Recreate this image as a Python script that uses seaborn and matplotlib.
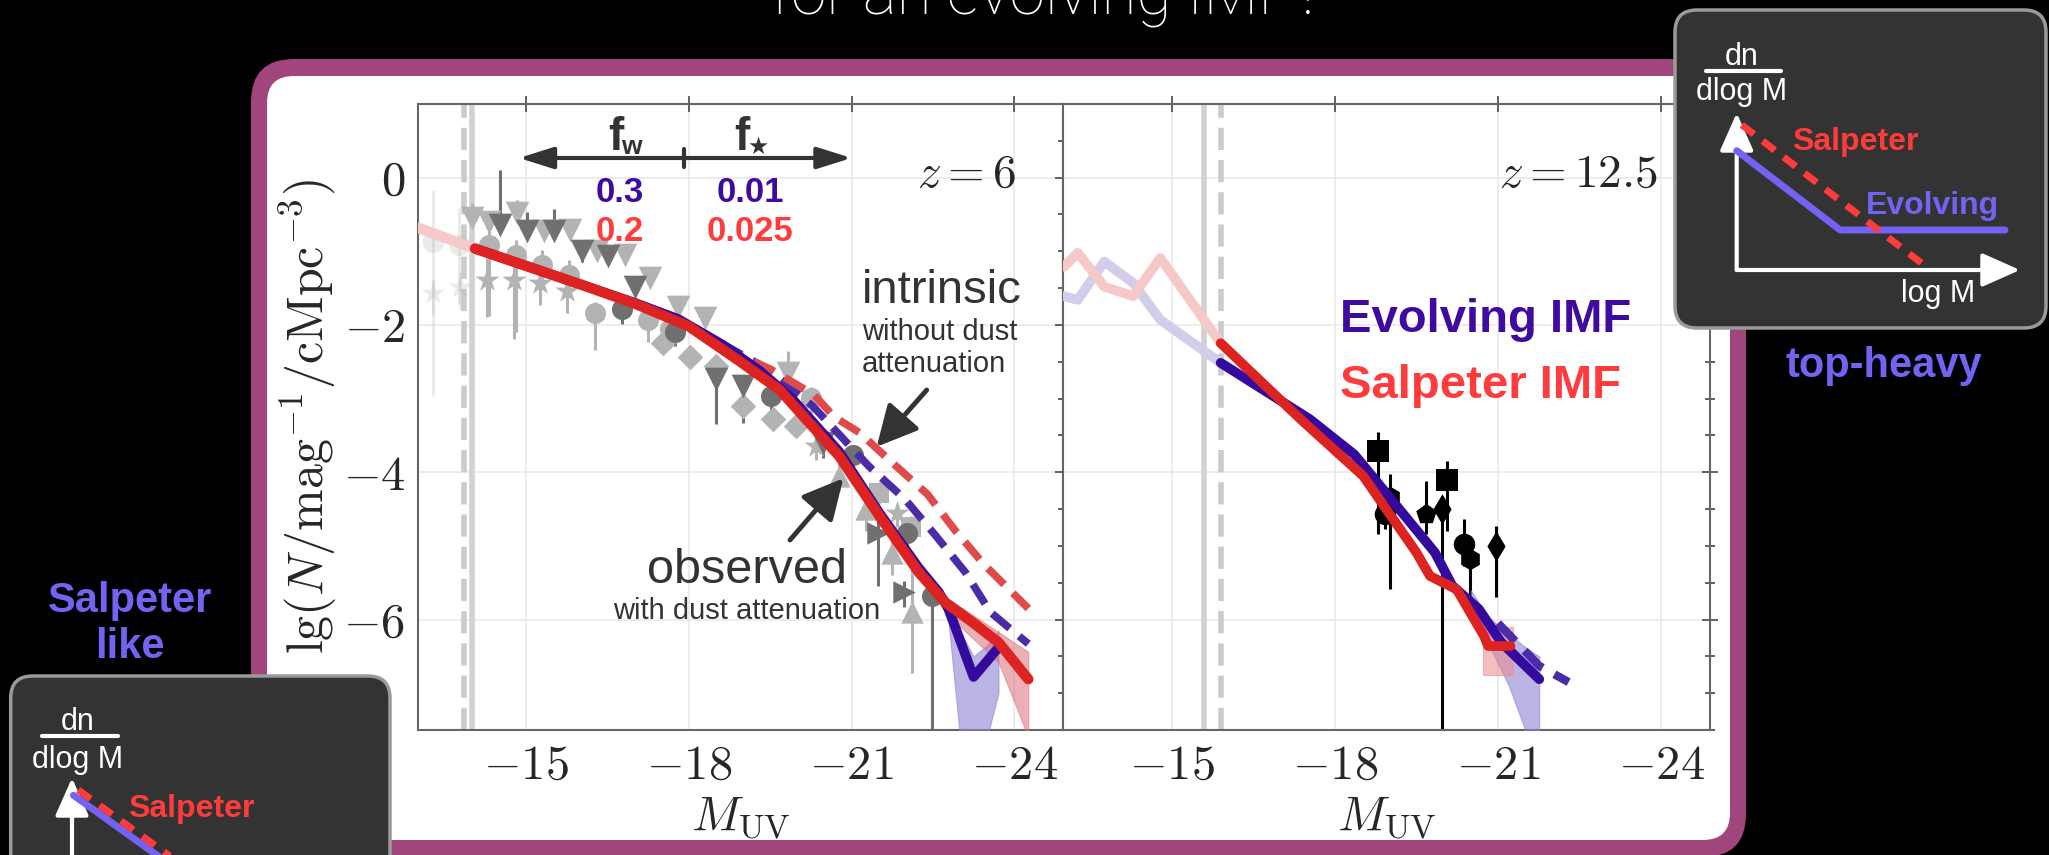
import numpy as np
import pandas as pd
import matplotlib
matplotlib.use("Agg")
import matplotlib.pyplot as plt
import seaborn as sns
from matplotlib.patches import FancyBboxPatch
from matplotlib.ticker import MultipleLocator

# ------------------------------------------------------------------ data
x_ticks = [-15, -18, -21, -24]
y_ticks = [0, -2, -4, -6]
x_lim = (-13.0, -24.9)
y_lim = (-7.5, 1.0)

# ---- z = 6 panel: model curves (observed = solid, intrinsic = dashed)
z6_salp_obs_M = [-13.0, -14.0, -15.0, -16.0, -17.0, -18.0, -18.93, -19.67, -20.77, -21.51, -22.24, -22.73, -23.2, -23.71, -24.26]
z6_salp_obs_y = [-0.68, -0.95, -1.2, -1.45, -1.71, -2.02, -2.49, -2.88, -3.78, -4.59, -5.36, -5.77, -6.02, -6.31, -6.81]
z6_evo_obs_M = [-13.0, -14.0, -15.0, -16.0, -17.0, -17.8, -18.6, -19.3, -19.9, -20.77, -21.51, -22.24, -22.61, -22.79, -23.25, -23.71]
z6_evo_obs_y = [-0.68, -0.95, -1.2, -1.45, -1.7, -1.92, -2.26, -2.62, -3.0, -3.72, -4.55, -5.3, -5.63, -5.86, -6.78, -6.38]
z6_salp_int_M = [-18.6, -19.5, -20.31, -20.68, -21.14, -21.78, -22.4, -22.92, -23.44, -24.26]
z6_salp_int_y = [-2.3, -2.6, -2.95, -3.25, -3.46, -3.89, -4.3, -4.8, -5.25, -5.85]
z6_evo_int_M = [-18.6, -19.5, -20.28, -21.32, -21.99, -22.55, -23.1, -23.56, -24.26]
z6_evo_int_y = [-2.25, -2.62, -3.1, -3.92, -4.37, -4.86, -5.36, -5.9, -6.33]
z6_evo_band_M = [-22.61, -22.79, -23.0, -23.25, -23.5, -23.71]
z6_evo_band_hi = [-5.58, -5.78, -6.15, -6.5, -6.35, -6.15]
z6_evo_band_lo = [-5.7, -6.05, -7.6, -7.6, -7.6, -7.0]
z6_salp_band_M = [-22.6, -22.79, -23.71, -24.26]
z6_salp_band_hi = [-5.6, -5.72, -6.17, -6.44]
z6_salp_band_lo = [-5.75, -5.95, -6.58, -7.6]
z6_limits_solid = -14.0
z6_limits_dashed = -13.85

# ---- z = 6 panel: observational data (grey)
dtri_M = [-14.52, -15.01, -15.51, -16.02, -16.51, -17.0, -18.5, -18.99, -20.47]
dtri_y = [-0.64, -0.73, -0.73, -1.0, -1.07, -1.48, -2.74, -2.83, -3.6]
dtri_lo = [0.1, 0.1, 0.1, 0.15, 0.1, 0.1, 0.6, 0.5, 0.2]
dtri_hi = [0.75, 0.27, 0.3, 0.16, 0.16, 0.13, 0.15, 0.15, 0.15]
ltri_M = [-14.0, -14.31, -14.83, -15.32, -15.81, -16.3, -16.82, -17.28, -17.8, -18.29, -19.82]
ltri_y = [-0.55, -0.6, -0.48, -0.73, -0.71, -1.0, -1.05, -1.36, -1.75, -1.91, -2.65]
ltri_lo = [0.1, 0.1, 0.1, 0.1, 0.1, 0.1, 0.1, 0.1, 0.1, 0.1, 0.2]
ltri_hi = [0.2, 0.15, 0.18, 0.1, 0.1, 0.1, 0.1, 0.1, 0.1, 0.1, 0.3]
lcirc_M = [-14.31, -14.8, -15.29, -15.78, -16.27, -17.25, -17.65, -20.25]
lcirc_y = [-0.91, -1.05, -1.18, -1.32, -1.84, -1.93, -2.06, -2.99]
lcirc_lo = [0.97, 1.05, 0.3, 0.3, 0.5, 0.3, 0.25, 0.2]
lcirc_hi = [0.34, 0.2, 0.2, 0.2, 0.15, 0.1, 0.1, 0.15]
dcirc_M = [-16.76, -17.74, -19.52, -21.02, -22.03, -22.49]
dcirc_y = [-1.79, -2.09, -2.97, -3.76, -4.82, -5.68]
dcirc_lo = [0.2, 0.2, 0.2, 0.2, 0.3, 2.0]
dcirc_hi = [0.1, 0.1, 0.1, 0.1, 0.2, 0.2]
star_M = [-14.28, -14.77, -15.26, -15.75, -20.35, -21.84]
star_y = [-1.39, -1.39, -1.43, -1.54, -3.64, -4.55]
star_lo = [0.5, 0.8, 0.3, 0.3, 0.2, 0.2]
star_hi = [0.3, 0.4, 0.2, 0.15, 0.1, 0.1]
diam_M = [-17.52, -18.01, -18.5, -18.99, -19.55, -19.98]
diam_y = [-2.24, -2.43, -2.56, -3.1, -3.28, -3.37]
diam_lo = [0.15, 0.15, 0.15, 0.15, 0.15, 0.15]
diam_hi = [0.15, 0.15, 0.15, 0.15, 0.15, 0.15]
tup_M = [-20.77, -21.26, -21.75, -22.12]
tup_y = [-4.05, -4.5, -5.09, -5.9]
tup_lo = [0.2, 0.3, 0.3, 0.82]
tup_hi = [0.2, 0.2, 0.2, 0.68]
trt_M = [-21.48, -21.97]
trt_y = [-4.82, -5.63]
trt_lo = [0.72, 0.2]
trt_hi = [0.3, 0.15]
sq_M = [-21.51, -22.1]
sq_y = [-4.28, -4.75]
sq_lo = [0.15, 0.15]
sq_hi = [0.15, 0.15]
faint_circ_M = [-13.27, -13.76]
faint_circ_y = [-0.87, -0.91]
faint_circ_lo = [2.1, 0.8]
faint_circ_hi = [0.7, 0.5]
faint_star_M = [-13.27, -13.77]
faint_star_y = [-1.57, -1.48]
faint_star_lo = [0.3, 0.3]
faint_star_hi = [0.2, 0.2]

# ---- z = 12.5 panel: model curves
z12_salp_obs_M = [-13.02, -13.27, -13.76, -14.29, -14.79, -15.89, -17.37, -18.52, -19.5, -19.75, -20.24, -20.74, -20.82, -21.23]
z12_salp_obs_y = [-1.21, -1.02, -1.48, -1.61, -1.09, -2.24, -3.28, -4.05, -5.09, -5.41, -5.59, -6.22, -6.36, -6.36]
z12_evo_obs_M = [-13.02, -13.27, -13.76, -14.29, -14.79, -15.89, -17.54, -18.36, -19.34, -19.84, -20.16, -20.65, -21.06, -21.76]
z12_evo_obs_y = [-1.61, -1.66, -1.14, -1.43, -1.93, -2.51, -3.28, -3.76, -4.64, -5.09, -5.54, -5.86, -6.31, -6.81]
z12_evo_int_M = [-21.0, -21.76, -22.3]
z12_evo_int_y = [-6.05, -6.63, -6.85]
z12_evo_band_M = [-20.5, -20.8, -21.2, -21.55, -21.76]
z12_evo_band_hi = [-5.6, -5.95, -6.2, -6.4, -6.5]
z12_evo_band_lo = [-5.85, -6.3, -6.9, -7.6, -7.6]
z12_salp_band_M = [-20.72, -21.28]
z12_salp_band_hi = [-6.1, -6.1]
z12_salp_band_lo = [-6.75, -6.75]
z12_limits_solid = -15.6
z12_limits_dashed = -15.9

# ---- z = 12.5 panel: observational data (black)
z12_obs_M = [-18.8, -18.93, -19.01, -19.67, -19.97, -20.06, -20.37, -20.49, -20.96]
z12_obs_y = [-3.71, -4.57, -4.34, -4.57, -4.50, -4.10, -4.98, -5.18, -5.00]
z12_obs_lo = [1.13, 0.2, 1.25, 0.27, 3.2, 0.7, 0.29, 0.5, 0.7]
z12_obs_hi = [0.25, 0.2, 0.31, 0.45, 0.18, 0.25, 0.34, 0.2, 0.27]
z12_obs_marker = ['s', 'o', 'h', 'p', 'd', 's', 'o', 'h', 'd']

# ---- parameter labels
fw_values = ['0.3', '0.2']
fstar_values = ['0.01', '0.025']

# ---- IMF schematic insets (schematic units 0..1)
th_salp_x = [0.018, 0.653]
th_salp_y = [0.924, 0.043]
th_evo_x = [0.0, 0.365, 0.947]
th_evo_y = [0.76, 0.255, 0.255]
sl_salp_x = [0.022, 0.58]
sl_salp_y = [0.924, 0.197]
sl_evo_x = [0.005, 0.55]
sl_evo_y = [0.89, 0.185]

# ------------------------------------------------------------------ style
sns.set_style("white")
plt.rcParams['mathtext.fontset'] = 'cm'
plt.rcParams['font.family'] = ['Liberation Sans', 'DejaVu Sans']

C_EVO = '#34099e'
C_SALP = '#dd2222'
C_EVO_D = '#4b2ca8'
C_SALP_D = '#e04a4a'
C_EVO_T = '#3f0a9f'
C_SALP_T = '#ff3b3b'
C_EVO_F = '#d3cdea'
C_SALP_F = '#f6c9c9'
C_LG = '#b3b3b3'
C_DG = '#707070'
C_INS = '#7363f2'
MAG = '#a0467c'

W, H = 2049, 855
fig = plt.figure(figsize=(W / 100, H / 100), dpi=100, facecolor='black')


def fx(px):
    return px / W


def fy(py):
    return 1 - py / H


# background frame
bg = fig.add_axes([0, 0, 1, 1], zorder=0)
bg.set_xlim(0, W)
bg.set_ylim(H, 0)
bg.axis('off')
bg.add_patch(FancyBboxPatch((251, 59), 1746 - 251, 857 - 59,
                            boxstyle='round,pad=0,rounding_size=43', fc=MAG, ec='none'))
bg.add_patch(FancyBboxPatch((267, 76), 1730 - 267, 840 - 76,
                            boxstyle='round,pad=0,rounding_size=27', fc='white', ec='none'))

axL = fig.add_axes([fx(418), fy(730), fx(1063) - fx(418), (730 - 104) / H], zorder=1)
axR = fig.add_axes([fx(1063), fy(730), fx(1710) - fx(1063), (730 - 104) / H], zorder=1)


def split_at(M, y, cut):
    M = np.asarray(M, float)
    y = np.asarray(y, float)
    if M.max() <= cut:
        return (M[:0], y[:0]), (M, y)
    yc = np.interp(cut, M[::-1], y[::-1])
    faint = M > cut
    Mf = np.append(M[faint], cut)
    yf = np.append(y[faint], yc)
    Ms = np.insert(M[~faint], 0, cut)
    ys = np.insert(y[~faint], 0, yc)
    return (Mf, yf), (Ms, ys)


def curve(ax, M, y, cut, color, faint_color, lw, z, dash=None):
    (Mf, yf), (Ms, ys) = split_at(M, y, cut)
    for mm, yy, c in ((Mf, yf, faint_color), (Ms, ys, color)):
        if len(mm) < 2:
            continue
        sns.lineplot(x=mm, y=yy, ax=ax, color=c, linewidth=lw, sort=False,
                     estimator=None, zorder=z)
        ln = ax.lines[-1]
        ln.set_solid_capstyle('round')
        if dash is not None:
            ln.set_dashes(dash)
            ln.set_dash_capstyle('butt')


def group(ax, M, y, lo, hi, marker, color, s, alpha=1.0):
    ax.errorbar(M, y, yerr=[lo, hi], fmt='none', ecolor=color, elinewidth=2.2,
                capsize=0, alpha=alpha, zorder=2)
    sns.scatterplot(x=M, y=y, ax=ax, marker=marker, color=color, s=s,
                    linewidth=0, alpha=alpha, zorder=3)


# ---------------- left panel (z = 6)
axL.axvline(z6_limits_solid, color='#d2d2d2', lw=4, zorder=1.5)
axL.axvline(z6_limits_dashed, color='#cbcbcb', lw=4, zorder=1.5, dashes=(4, 1.8))

group(axL, faint_circ_M, faint_circ_y, faint_circ_lo, faint_circ_hi, 'o', C_LG, 230, 0.25)
group(axL, faint_star_M, faint_star_y, faint_star_lo, faint_star_hi, '*', C_LG, 330, 0.25)
group(axL, lcirc_M, lcirc_y, lcirc_lo, lcirc_hi, 'o', C_LG, 230)
group(axL, star_M, star_y, star_lo, star_hi, '*', C_LG, 330)
group(axL, diam_M, diam_y, diam_lo, diam_hi, 'D', C_LG, 170)
group(axL, ltri_M, ltri_y, ltri_lo, ltri_hi, 'v', C_LG, 290)
group(axL, tup_M, tup_y, tup_lo, tup_hi, '^', C_LG, 260)
group(axL, sq_M, sq_y, sq_lo, sq_hi, 's', C_LG, 200)
group(axL, dtri_M, dtri_y, dtri_lo, dtri_hi, 'v', C_DG, 290)
group(axL, dcirc_M, dcirc_y, dcirc_lo, dcirc_hi, 'o', C_DG, 230)
group(axL, trt_M, trt_y, trt_lo, trt_hi, '>', C_DG, 260)

axL.fill_between(z6_evo_band_M, z6_evo_band_lo, z6_evo_band_hi, color='#8d84d4', alpha=0.6, lw=0.8, zorder=3.5)
axL.fill_between(z6_salp_band_M, z6_salp_band_lo, z6_salp_band_hi, color='#d9707a', alpha=0.55, lw=0.8, zorder=3.6)

curve(axL, z6_evo_int_M, z6_evo_int_y, z6_limits_solid - 0.05, C_EVO_D, C_EVO_F, 5.5, 4, dash=(3.0, 1.6))
curve(axL, z6_salp_int_M, z6_salp_int_y, z6_limits_solid - 0.05, C_SALP_D, C_SALP_F, 5.5, 4.1, dash=(3.0, 1.6))
curve(axL, z6_evo_obs_M, z6_evo_obs_y, z6_limits_solid - 0.05, C_EVO, C_EVO_F, 7, 4.2)
curve(axL, z6_salp_obs_M, z6_salp_obs_y, z6_limits_solid - 0.05, C_SALP, C_SALP_F, 7.5, 4.3)

# ---------------- right panel (z = 12.5)
axR.axvline(z12_limits_solid, color='#d2d2d2', lw=4, zorder=1.5)
axR.axvline(z12_limits_dashed, color='#cbcbcb', lw=4, zorder=1.5, dashes=(4, 1.8))

for Mi, yi, lo, hi, mk in zip(z12_obs_M, z12_obs_y, z12_obs_lo, z12_obs_hi, z12_obs_marker):
    group(axR, [Mi], [yi], [lo], [hi], mk, 'black', 240)

axR.fill_between(z12_evo_band_M, z12_evo_band_lo, z12_evo_band_hi, color='#8d84d4', alpha=0.6, lw=0.8, zorder=3.5)
axR.fill_between(z12_salp_band_M, z12_salp_band_lo, z12_salp_band_hi, color='#ee8a8a', alpha=0.55, lw=0.8, zorder=3.6)
curve(axR, z12_evo_int_M, z12_evo_int_y, z12_limits_dashed, C_EVO_D, C_EVO_F, 6, 4, dash=(3.0, 1.6))
curve(axR, z12_evo_obs_M, z12_evo_obs_y, z12_limits_dashed, C_EVO, C_EVO_F, 7, 4.2)
curve(axR, z12_salp_obs_M, z12_salp_obs_y, z12_limits_dashed, C_SALP, C_SALP_F, 7, 4.3)

# ---------------- axes styling
for ax in (axL, axR):
    ax.set_xlim(*x_lim)
    ax.set_ylim(*y_lim)
    ax.set_xticks(x_ticks)
    ax.set_xticklabels([f'$-{abs(v)}$' for v in x_ticks])
    ax.set_yticks(y_ticks)
    ax.set_yticklabels([f'$-{abs(v)}$' if v < 0 else f'${v}$' for v in y_ticks])
    ax.yaxis.set_minor_locator(MultipleLocator(0.5))
    ax.grid(True, which='major', color='#e9e9e9', lw=1.2)
    ax.set_axisbelow(True)
    ax.tick_params(which='both', direction='inout', top=True, right=True,
                   color='#555555', width=1.3)
    ax.tick_params(which='major', length=12, labelsize=35)
    ax.tick_params(axis='x', which='major', pad=4)
    ax.tick_params(axis='y', which='major', pad=3)
    ax.tick_params(which='minor', length=7)
    for s in ax.spines.values():
        s.set_color('#666666')
        s.set_linewidth(1.5)
    ax.set_xlabel('')
    ax.set_ylabel('')
    ax.text(0.5, -0.139, r'$M_{\rm UV}$', transform=ax.transAxes, ha='center',
            va='center', fontsize=35)
axR.tick_params(labelleft=False)
axL.text(-0.1705, 0.5, r'$\lg(N/{\rm mag}^{-1}/{\rm cMpc}^{-3})$', transform=axL.transAxes,
         rotation=90, ha='center', va='center', fontsize=36)

# ---------------- overlay: annotations, title, insets
ov = fig.add_axes([0, 0, 1, 1], zorder=3)
ov.set_xlim(0, W)
ov.set_ylim(H, 0)
ov.axis('off')

ov.text(1047, 15, 'for an evolving IMF?', ha='center', va='baseline', color='white',
        fontsize=46, family='Roboto', fontweight='light')

ov.text(1016, 187, '$z=6$', ha='right', va='baseline', fontsize=34)
ov.text(1658, 187, '$z=12.5$', ha='right', va='baseline', fontsize=34)

# f_w / f_star double arrow
ov.annotate('', xy=(519, 158), xytext=(851.5, 158),
            arrowprops=dict(arrowstyle='<|-|>,head_length=0.7,head_width=0.22',
                            color='#333333', lw=3, mutation_scale=30, shrinkA=0, shrinkB=0))
ov.plot([684, 684], [149, 167], color='#333333', lw=3)
ov.text(616, 150, 'f', ha='center', va='baseline', fontsize=33, fontweight='bold', color='#333333')
ov.text(621, 154, 'w', ha='left', va='baseline', fontsize=19, fontweight='bold', color='#333333')
ov.text(742, 150, 'f', ha='center', va='baseline', fontsize=33, fontweight='bold', color='#333333')
ov.text(747, 154, '★', ha='left', va='baseline', fontsize=17, color='#333333',
        family=['DejaVu Sans'])
ov.text(620, 202, fw_values[0], ha='center', va='baseline', fontsize=25, fontweight='bold', color=C_EVO_T)
ov.text(620, 241, fw_values[1], ha='center', va='baseline', fontsize=25, fontweight='bold', color=C_SALP_T)
ov.text(750, 202, fstar_values[0], ha='center', va='baseline', fontsize=25, fontweight='bold', color=C_EVO_T)
ov.text(750, 241, fstar_values[1], ha='center', va='baseline', fontsize=25, fontweight='bold', color=C_SALP_T)

# intrinsic / observed annotations
ov.text(862, 303, 'intrinsic', ha='left', va='baseline', fontsize=34, color='#333333')
ov.text(862, 340, 'without dust', ha='left', va='baseline', fontsize=21, color='#333333')
ov.text(862, 372, 'attenuation', ha='left', va='baseline', fontsize=21, color='#333333')
ov.annotate('', xy=(876.7, 446.7), xytext=(926.7, 390),
            arrowprops=dict(arrowstyle='-|>,head_length=0.55,head_width=0.28',
                            color='#333333', lw=3.5, mutation_scale=45, shrinkA=0, shrinkB=0))
ov.text(747, 583, 'observed', ha='center', va='baseline', fontsize=35, color='#333333')
ov.text(747, 619, 'with dust attenuation', ha='center', va='baseline', fontsize=21, color='#333333')
ov.annotate('', xy=(843.3, 478.3), xytext=(790, 540),
            arrowprops=dict(arrowstyle='-|>,head_length=0.55,head_width=0.28',
                            color='#333333', lw=3.5, mutation_scale=45, shrinkA=0, shrinkB=0))

ov.text(1340, 331.7, 'Evolving IMF', ha='left', va='baseline', fontsize=34, fontweight='bold', color=C_EVO_T)
ov.text(1340, 398, 'Salpeter IMF', ha='left', va='baseline', fontsize=34, fontweight='bold', color=C_SALP_T)

# inset boxes
ov.add_patch(FancyBboxPatch((1675, 10), 2046 - 1675, 328 - 10,
                            boxstyle='round,pad=0,rounding_size=22', fc='#333333', ec='#9a9a9a', lw=2.5))
ov.add_patch(FancyBboxPatch((10.7, 676), 390 - 10.7, 300,
                            boxstyle='round,pad=0,rounding_size=22', fc='#333333', ec='#9a9a9a', lw=2.5))

ov.text(1741.7, 65, 'dn', ha='center', va='baseline', fontsize=22, color='white')
ov.plot([1705.7, 1781], [71, 71], color='white', lw=3)
ov.text(1741.7, 100, 'dlog M', ha='center', va='baseline', fontsize=22, color='white')
ov.text(1855, 150, 'Salpeter', ha='center', va='baseline', fontsize=23, fontweight='bold', color=C_SALP_T)
ov.text(1932.5, 214.3, 'Evolving', ha='center', va='baseline', fontsize=23, fontweight='bold', color=C_INS)
ov.text(1938.3, 301.7, 'log M', ha='center', va='baseline', fontsize=22, color='white')
ov.text(1884, 376.7, 'top-heavy', ha='center', va='baseline', fontsize=30, fontweight='bold', color=C_INS)

ov.text(130, 611.7, 'Salpeter', ha='center', va='baseline', fontsize=30, fontweight='bold', color=C_INS)
ov.text(130, 658, 'like', ha='center', va='baseline', fontsize=30, fontweight='bold', color=C_INS)
ov.text(78, 730, 'dn', ha='center', va='baseline', fontsize=22, color='white')
ov.plot([41.7, 118.3], [736, 736], color='white', lw=3)
ov.text(78, 768, 'dlog M', ha='center', va='baseline', fontsize=22, color='white')
ov.text(191.7, 816.7, 'Salpeter', ha='center', va='baseline', fontsize=23, fontweight='bold', color=C_SALP_T)


def schematic(rect, salp_x, salp_y, evo_x, evo_y):
    ins = fig.add_axes(rect, zorder=4)
    ins.set_xlim(0, 1)
    ins.set_ylim(0, 1)
    ins.axis('off')
    ap = dict(arrowstyle='-|>,head_length=0.9,head_width=0.4', color='white', lw=3,
              mutation_scale=26, shrinkA=0, shrinkB=0)
    ins.annotate('', xy=(0, 1), xytext=(0, 0), arrowprops=ap, annotation_clip=False)
    ins.annotate('', xy=(1, 0), xytext=(0, 0), arrowprops=ap, annotation_clip=False)
    sns.lineplot(x=evo_x, y=evo_y, ax=ins, color=C_INS, linewidth=5, sort=False,
                 estimator=None, zorder=3)
    sns.lineplot(x=salp_x, y=salp_y, ax=ins, color=C_SALP_T, linewidth=5, sort=False,
                 estimator=None, zorder=4)
    ins.lines[-1].set_dashes((2.2, 1.6))
    for ln in ins.lines:
        ln.set_clip_on(False)
    ins.set_xlabel('')
    ins.set_ylabel('')
    return ins


schematic([fx(1736.7), fy(270), 283.3 / W, 157 / H], th_salp_x, th_salp_y, th_evo_x, th_evo_y)
schematic([fx(72), fy(935), 283.3 / W, 157 / H], sl_salp_x, sl_salp_y, sl_evo_x, sl_evo_y)

fig.savefig('out.png', dpi=100, facecolor='black')
